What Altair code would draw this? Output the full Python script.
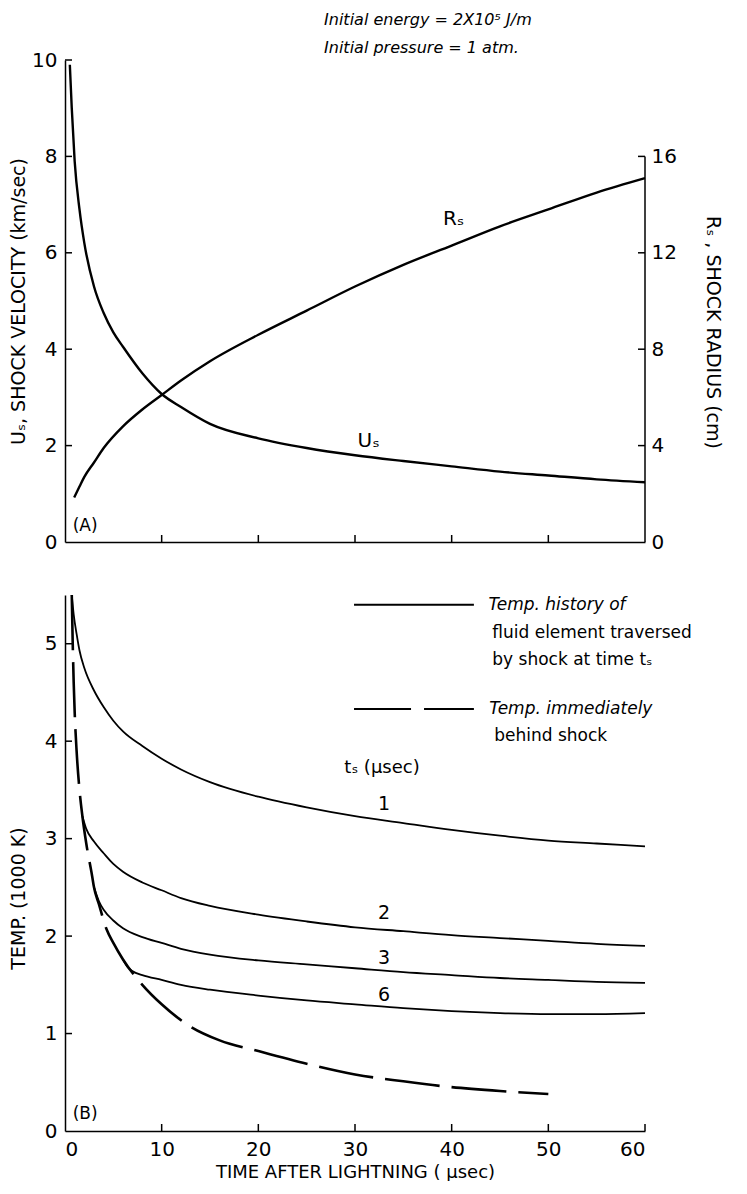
import altair as alt
import pandas as pd

FONT = "DejaVu Sans"

# ---------------- Panel A data ----------------
u_t = [0.5, 0.7, 1, 1.5, 2, 3, 4, 5, 6, 8, 10, 12, 15, 20, 25, 30, 35, 40, 45, 50, 55, 60]
u_v = [9.9, 9.0, 7.9, 6.9, 6.2, 5.3, 4.75, 4.35, 4.05, 3.5, 3.07, 2.8, 2.45, 2.15, 1.95,
       1.8, 1.68, 1.57, 1.46, 1.38, 1.3, 1.24]

r_t = [0.95, 1.5, 2, 3, 4, 6, 8, 10, 12, 15, 20, 25, 30, 35, 40, 45, 50, 55, 60]
r_v = [1.85, 2.3, 2.7, 3.3, 3.9, 4.8, 5.5, 6.1, 6.7, 7.5, 8.6, 9.6, 10.6, 11.5, 12.3,
       13.1, 13.8, 14.5, 15.1]

# ---------------- Panel B data ----------------
t1_t = [0.7, 0.9, 1.2, 1.5, 2, 3, 4, 5, 6, 8, 10, 12, 15, 20, 25, 30, 35, 40, 45, 50, 55, 60]
t1_v = [5.5, 5.3, 5.1, 4.93, 4.75, 4.52, 4.35, 4.21, 4.1, 3.95, 3.82, 3.71, 3.58, 3.43,
        3.32, 3.23, 3.16, 3.09, 3.03, 2.98, 2.95, 2.92]
t2_t = [1.8, 2.2, 3, 4, 5, 6, 8, 10, 12, 15, 20, 25, 30, 35, 40, 45, 50, 55, 60]
t2_v = [3.23, 3.1, 2.97, 2.85, 2.74, 2.66, 2.55, 2.47, 2.39, 2.31, 2.22, 2.15, 2.09, 2.05,
        2.01, 1.98, 1.95, 1.92, 1.9]
t3_t = [3.0, 3.5, 4, 5, 6, 8, 10, 12, 15, 20, 25, 30, 35, 40, 45, 50, 55, 60]
t3_v = [2.5, 2.36, 2.27, 2.16, 2.08, 1.99, 1.93, 1.87, 1.81, 1.75, 1.71, 1.67, 1.63, 1.6,
        1.57, 1.55, 1.53, 1.52]
t6_t = [6.0, 6.5, 7, 8, 10, 12, 15, 20, 25, 30, 35, 40, 45, 50, 55, 60]
t6_v = [1.76, 1.68, 1.64, 1.6, 1.55, 1.5, 1.45, 1.39, 1.34, 1.3, 1.26, 1.23, 1.21, 1.2,
        1.2, 1.21]
shock_t = [0.7, 0.8, 0.9, 1.0, 1.2, 1.5, 1.8, 2.2, 2.8, 3.0, 3.5, 4.3, 5, 6, 8, 10, 13, 16,
           20, 25, 30, 35, 40, 45, 50]
shock_v = [5.5, 5.0, 4.6, 4.3, 3.9, 3.5, 3.23, 2.95, 2.62, 2.5, 2.33, 2.07, 1.93, 1.76, 1.5,
           1.3, 1.07, 0.93, 0.82, 0.69, 0.58, 0.51, 0.45, 0.41, 0.38]

ts_labels = ["1", "2", "3", "6"]
ts_label_values = [3.36, 2.24, 1.78, 1.4]

top_x_ticks = [10, 20, 30, 40, 50]
bot_x_ticks = [10, 20, 30, 40, 50, 60]
u_ticks = [2, 4, 6, 8, 10]
r_ticks = [4, 8, 12, 16]
temp_ticks = [1, 2, 3, 4, 5]

W, H_TOP, H_BOT = 580, 482, 536

XS = alt.Scale(domain=[0, 60], nice=False, zero=True)
US = alt.Scale(domain=[0, 10], nice=False)
RS = alt.Scale(domain=[0, 20], nice=False)
TS = alt.Scale(domain=[0, 5.5], nice=False)

AX_XTOP = alt.Axis(labels=False, title=None)
AX_U = alt.Axis(values=[0, 2, 4, 6, 8, 10], title="Uₛ, SHOCK VELOCITY (km/sec)",
                orient="left", titlePadding=3)
AX_R = alt.Axis(values=[0, 4, 8, 12, 16], title="Rₛ , SHOCK RADIUS (cm)", orient="right",
                domain=False, titlePadding=26, titleY=272, labelPadding=6)
AX_XBOT = alt.Axis(values=[0, 10, 20, 30, 40, 50, 60], title="TIME AFTER LIGHTNING ( μsec)",
                   titlePadding=4, titleFontSize=18, labelPadding=8)
AX_T = alt.Axis(values=[0, 1, 2, 3, 4, 5], title="TEMP. (1000 K)", titlePadding=16,
                titleY=303)

ONE = pd.DataFrame({"a": [0]})


def label(text, t, v, xaxis, yscale, yaxis, size=19, italic=False, align="center"):
    return alt.Chart(ONE).mark_text(
        text=text, font=FONT, fontSize=size, align=align, baseline="middle",
        fontStyle="italic" if italic else "normal", color="black"
    ).encode(
        x=alt.XDatum(t, type="quantitative", scale=XS, axis=xaxis),
        y=alt.YDatum(v, type="quantitative", scale=yscale, axis=yaxis),
    )


# ---------------- Panel A ----------------
u_df = pd.DataFrame({"t": u_t, "U": u_v})
r_df = pd.DataFrame({"t": r_t, "R": r_v})

u_line = alt.Chart(u_df).mark_line(color="black", strokeWidth=2.4, interpolate="monotone").encode(
    x=alt.X("t:Q", scale=XS, axis=AX_XTOP),
    y=alt.Y("U:Q", scale=US, axis=AX_U),
)
u_yt = alt.Chart(pd.DataFrame({"v": u_ticks})).mark_rule(color="black", strokeWidth=1.5).encode(
    y=alt.Y("v:Q", scale=US, axis=AX_U), x=alt.value(0), x2=alt.value(7))
top_xt = alt.Chart(pd.DataFrame({"t": top_x_ticks})).mark_rule(color="black", strokeWidth=1.5).encode(
    x=alt.X("t:Q", scale=XS, axis=AX_XTOP), y=alt.value(H_TOP), y2=alt.value(H_TOP - 7))

left_group = alt.layer(
    u_line, u_yt, top_xt,
    label("Uₛ", 31.4, 2.1, AX_XTOP, US, AX_U, size=20),
    label("(A)", 0.8, 0.33, AX_XTOP, US, AX_U, size=17, align="left"),
    label("Initial energy = 2X10⁵ J/m", 26.8, 10.84, AX_XTOP, US, AX_U, size=16,
          italic=True, align="left"),
    label("Initial pressure = 1 atm.", 26.8, 10.24, AX_XTOP, US, AX_U, size=16,
          italic=True, align="left"),
)

r_line = alt.Chart(r_df).mark_line(color="black", strokeWidth=2.4, interpolate="monotone").encode(
    x=alt.X("t:Q", scale=XS, axis=AX_XTOP),
    y=alt.Y("R:Q", scale=RS, axis=AX_R),
)
r_yt = alt.Chart(pd.DataFrame({"v": r_ticks})).mark_rule(color="black", strokeWidth=1.5).encode(
    y=alt.Y("v:Q", scale=RS, axis=AX_R), x=alt.value(W), x2=alt.value(W - 7))
r_dom = alt.Chart(pd.DataFrame({"a": [0], "b": [16]})).mark_rule(color="black", strokeWidth=1.5).encode(
    x=alt.value(W), y=alt.Y("a:Q", scale=RS, axis=AX_R), y2="b:Q")

right_group = alt.layer(r_line, r_yt, r_dom,
                        label("Rₛ", 40.2, 13.4, AX_XTOP, RS, AX_R, size=20))

top = alt.layer(left_group, right_group).resolve_scale(y="independent").properties(
    width=W, height=H_TOP)

# ---------------- Panel B ----------------
frames = []
for name, tt, vv in [("1", t1_t, t1_v), ("2", t2_t, t2_v), ("3", t3_t, t3_v), ("6", t6_t, t6_v)]:
    frames.append(pd.DataFrame({"t": tt, "T": vv, "ts": name}))
hist_df = pd.concat(frames, ignore_index=True)
shock_df = pd.DataFrame({"t": shock_t, "T": shock_v})

hist_lines = alt.Chart(hist_df).mark_line(color="black", strokeWidth=1.8, interpolate="monotone").encode(
    x=alt.X("t:Q", scale=XS, axis=AX_XBOT),
    y=alt.Y("T:Q", scale=TS, axis=AX_T),
    detail="ts:N",
)
shock_line = alt.Chart(shock_df).mark_line(
    color="black", strokeWidth=2.6, strokeDash=[55, 12], interpolate="monotone"
).encode(x=alt.X("t:Q", scale=XS, axis=AX_XBOT), y=alt.Y("T:Q", scale=TS, axis=AX_T))

b_yt = alt.Chart(pd.DataFrame({"v": temp_ticks})).mark_rule(color="black", strokeWidth=1.5).encode(
    y=alt.Y("v:Q", scale=TS, axis=AX_T), x=alt.value(0), x2=alt.value(7))
b_xt = alt.Chart(pd.DataFrame({"t": bot_x_ticks})).mark_rule(color="black", strokeWidth=1.5).encode(
    x=alt.X("t:Q", scale=XS, axis=AX_XBOT), y=alt.value(H_BOT), y2=alt.value(H_BOT - 7))

leg_solid = alt.Chart(ONE).mark_rule(color="black", strokeWidth=1.8).encode(
    x=alt.XDatum(29.9, type="quantitative", scale=XS, axis=AX_XBOT),
    x2=alt.X2Datum(42.3),
    y=alt.YDatum(5.4, type="quantitative", scale=TS, axis=AX_T))
leg_dash = alt.Chart(ONE).mark_rule(color="black", strokeWidth=1.8, strokeDash=[57, 13]).encode(
    x=alt.XDatum(29.9, type="quantitative", scale=XS, axis=AX_XBOT),
    x2=alt.X2Datum(42.3),
    y=alt.YDatum(4.33, type="quantitative", scale=TS, axis=AX_T))

ts_df = pd.DataFrame({"lab": ts_labels, "T": ts_label_values, "t": [33.0] * 4})
ts_text = alt.Chart(ts_df).mark_text(font=FONT, fontSize=19, color="black").encode(
    x=alt.X("t:Q", scale=XS, axis=AX_XBOT), y=alt.Y("T:Q", scale=TS, axis=AX_T), text="lab:N")


def blabel(text, t, v, **kw):
    return label(text, t, v, AX_XBOT, TS, AX_T, **kw)


bottom = alt.layer(
    hist_lines, shock_line, b_yt, b_xt, leg_solid, leg_dash, ts_text,
    blabel("Temp. history of", 43.8, 5.4, size=17, italic=True, align="left"),
    blabel("fluid element traversed", 44.2, 5.11, size=17, align="left"),
    blabel("by shock at time tₛ", 44.2, 4.83, size=17, align="left"),
    blabel("Temp. immediately", 43.9, 4.33, size=17, italic=True, align="left"),
    blabel("behind shock", 44.4, 4.05, size=17, align="left"),
    blabel("tₛ (μsec)", 28.9, 3.72, size=18, align="left"),
    blabel("(B)", 0.8, 0.17, size=17, align="left"),
).properties(width=W, height=H_BOT)

chart = alt.vconcat(top, bottom, spacing=37).properties(
    padding={"left": 1, "top": 3, "right": 12, "bottom": 0}
).configure_view(
    stroke=None
).configure_axis(
    labelFont=FONT, labelFontSize=20, labelColor="black", labelPadding=8,
    titleFont=FONT, titleFontSize=19, titleFontWeight="normal", titleColor="black",
    domainColor="black", domainWidth=1.5, ticks=False, grid=False,
)

chart.save("out.html", embed_options={"renderer": "svg", "actions": False})
